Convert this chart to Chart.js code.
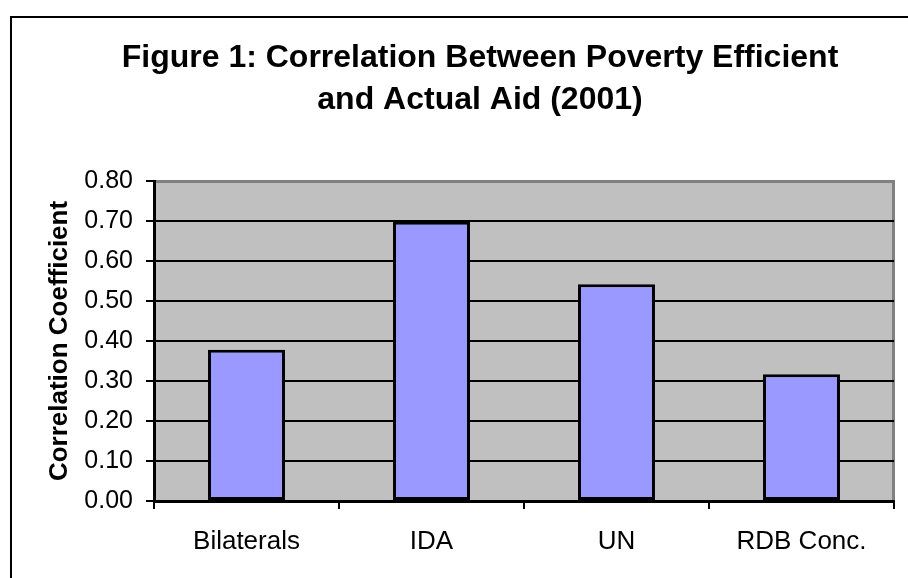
<!DOCTYPE html>
<html>
<head>
<meta charset="utf-8">
<script src="https://cdn.jsdelivr.net/npm/chart.js@4"></script>
<style>
  html, body { margin: 0; padding: 0; background: #fff; overflow: hidden; }
  #wrap { position: relative; width: 908px; height: 578px; overflow: hidden; }
  #frame { position: absolute; left: 10px; top: 16px; width: 1000px; height: 700px;
           border-left: 2px solid #000; border-top: 2px solid #000; }
  #bar-chart { position: absolute; left: 0; top: 0; }
</style>
</head>
<body>
<div id="wrap">
  <div id="frame"></div>
  <canvas id="bar-chart" width="960" height="578"></canvas>
</div>
<script>
const categories = ["Bilaterals", "IDA", "UN", "RDB Conc."];
const correlation = [0.378, 0.698, 0.542, 0.317];
const yTicks = [0, 0.1, 0.2, 0.3, 0.4, 0.5, 0.6, 0.7, 0.8];

Chart.defaults.font.family = "'Liberation Sans', Arial, sans-serif";
Chart.defaults.color = "#000";

// grey plot background with grey top/right edge, like the old spreadsheet charts
const plotArea = {
  id: "plotArea",
  beforeDraw(chart) {
    const { ctx, chartArea: a } = chart;
    ctx.save();
    ctx.fillStyle = "#c0c0c0";
    ctx.fillRect(a.left, a.top, a.right - a.left, a.bottom - a.top);
    ctx.strokeStyle = "#808080";
    ctx.lineWidth = 3;
    ctx.beginPath();
    ctx.moveTo(a.left, a.top + 0.5);
    ctx.lineTo(a.right - 0.5, a.top + 0.5);
    ctx.lineTo(a.right - 0.5, a.bottom);
    ctx.stroke();
    ctx.restore();
  },
};

const data = {
  labels: categories,
  datasets: [
    {
      data: correlation,
      backgroundColor: "#9999ff",
      borderColor: "#000",
      borderWidth: 3,
      borderSkipped: false,
      categoryPercentage: 1,
      barPercentage: 0.416,
    },
  ],
};

const config = {
  type: "bar",
  data: data,
  plugins: [plotArea],
  options: {
    responsive: false,
    animation: false,
    layout: { padding: 0 },
    plugins: {
      legend: { display: false },
      tooltip: { enabled: false },
      title: {
        display: true,
        text: ["Figure 1: Correlation Between Poverty Efficient", "and Actual Aid (2001)"],
        font: { size: 32, weight: "bold", lineHeight: 1.3125 },
        padding: { top: 37, bottom: 60 },
        color: "#000",
      },
    },
    scales: {
      x: {
        afterFit(scale) { scale.height = 77; },
        grid: {
          offset: true,
          drawOnChartArea: false,
          drawTicks: true,
          tickLength: 8,
          color: "#000",
          lineWidth: 2,
        },
        border: { color: "#000", width: 3 },
        ticks: { font: { size: 26 }, padding: 17, color: "#000" },
      },
      y: {
        min: 0,
        max: 0.8,
        afterFit(scale) { scale.width = 154; },
        afterBuildTicks(scale) { scale.ticks = yTicks.map(v => ({ value: v })); },
        grid: {
          color: ctx => (ctx.tick && ctx.tick.value >= 0.8 ? "rgba(0,0,0,0)" : "#000"),
          tickColor: "#000",
          lineWidth: 2,
          tickLength: 8,
        },
        border: { color: "#000", width: 3 },
        ticks: {
          font: { size: 25 },
          padding: 13,
          color: "#000",
          callback: v => Number(v).toFixed(2),
        },
        title: {
          display: true,
          text: "Correlation Coefficient",
          font: { size: 26, weight: "bold" },
          padding: { top: 44, bottom: 0 },
          color: "#000",
        },
      },
      // empty right-hand axis that only reserves space, so the title stays centred on the full figure
      yRight: {
        position: "right",
        afterFit(scale) { scale.width = 66; },
        grid: { display: false },
        border: { display: false },
        ticks: { display: false },
      },
    },
  },
};

var ctx = document.getElementById("bar-chart").getContext("2d");
var myChart = new Chart(ctx, config);
</script>
</body>
</html>
